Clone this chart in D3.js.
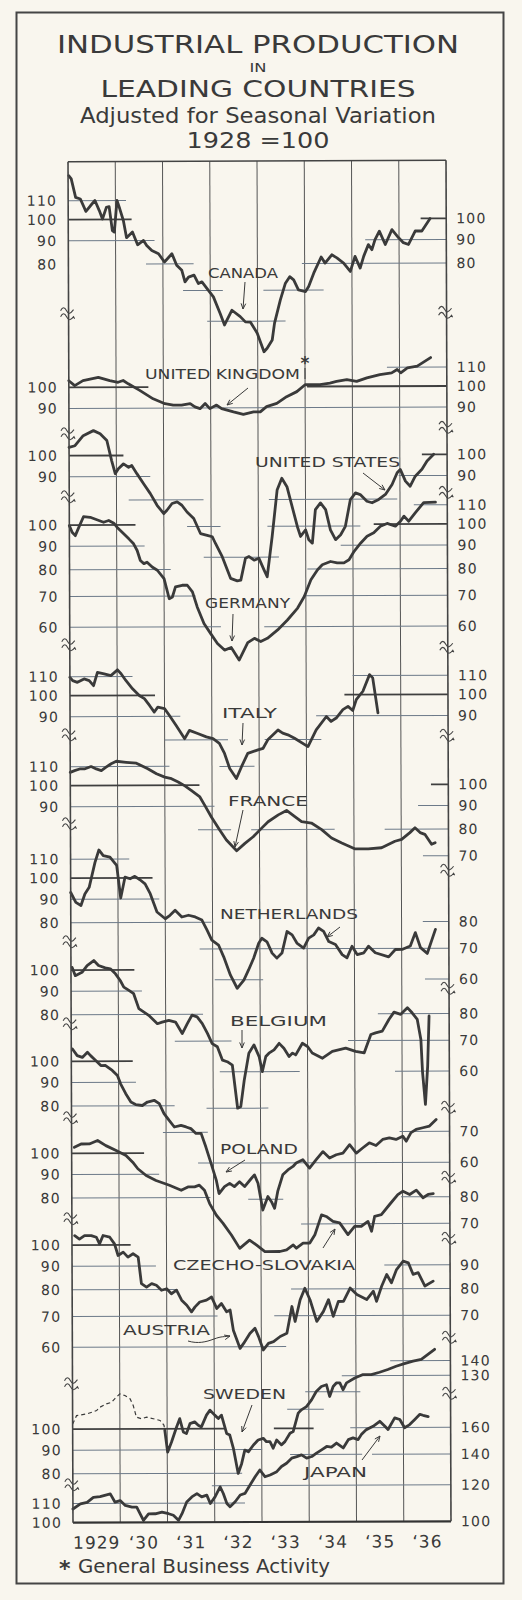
<!DOCTYPE html>
<html>
<head>
<meta charset="utf-8">
<script src="https://cdn.jsdelivr.net/npm/d3@7"></script>
<style>
  body { margin: 0; background: #f9f6ee; }
  text { font-family: "DejaVu Sans", sans-serif; fill: #3a3a3a; }
</style>
</head>
<body>
<div id="chart"></div>
<script>
// month 0 = Jan 1929, 96 = Jan 1937. Each series: [month, index (1928=100)]
const yearLabels = ["1929", "\u201830", "\u201831", "\u201832", "\u201833", "\u201834", "\u201835", "\u201836"];

const canada = [[0.2,124.6],[0.8,122.6],[1.9,111.8],[3.1,110.9],[4.5,104.2],[5.7,107.3],[6.8,110],[7.9,104.6],[8.7,100.3],[9.7,106.3],[10.4,106.7],[11.2,94.6],[11.7,93.9],[12.4,110],[13.1,105.5],[14,99.5],[14.8,91.3],[16.3,93.9],[17.6,88.1],[19.1,90],[19.9,87.8],[21.2,85.6],[22.9,84.2],[24.4,80.8],[26.3,84.2],[27.5,79.5],[28.8,77.5],[29.6,73.1],[30.5,74.9],[31.9,75.6],[33,72.5],[33.9,73.1],[35.2,70.7],[36.8,67.8],[38.5,62.4],[39.6,58.9],[41.5,63.4],[43.6,61.4],[44.9,59.8],[46.2,59.7],[47.9,56.5],[49.6,51.5],[50.4,52.4],[51.7,54.6],[52.3,59.4],[53.8,66.7],[55.1,72.5],[56.2,74.9],[57.2,73.7],[58.4,70.1],[60.2,69.5],[61,71.3],[62.3,76.2],[64.2,82.6],[65.2,80.1],[66.9,83.5],[68.2,82.2],[69.9,80.1],[71.6,76.8],[72.8,82.8],[74.1,78.1],[75,82.8],[76.2,87.8],[77.1,85.6],[77.9,90],[79,93.9],[80.5,87.8],[82.2,94.6],[83.9,90.8],[85.1,88.6],[86.4,87.8],[88.1,93.9],[89.8,93.9],[91.9,99.9]];
const unitedKingdom = [[0,103.4],[1.5,100.9],[3.6,103.4],[7.5,105.1],[10.4,103.4],[12.5,102.5],[13.8,103.4],[15.1,101.7],[18,98.4],[21.4,94.3],[24.4,92],[26.5,91.3],[28.6,91.3],[30.8,92],[32,90.5],[33.3,89.7],[34.6,92],[35.8,89.7],[37.5,91.3],[38.8,89.7],[41.8,88.2],[44.3,87.1],[46.9,88.2],[48.6,88.2],[50.2,90.5],[52.8,92],[55.3,95.1],[57.9,97.5],[60,100.9],[62.1,100.9],[63.8,100.9],[66.3,101.7],[68,102.5],[70.6,103.4],[73.1,102.5],[75.7,104.3],[79,106],[82,106.9],[83.4,108.7],[84.3,106.9],[86,109.6],[88.5,110.5],[91.9,115.3]];
const unitedStates = [[0,104.2],[1.5,105.1],[3.6,110.5],[6.2,113.3],[7.9,111.5],[9.6,107.8],[10.8,97.5],[11.7,91.3],[12.5,93.6],[13.8,95.9],[15.1,94.3],[15.9,95.1],[17.2,91.3],[18.9,86.8],[20.6,82.6],[22.3,77.9],[24,74.7],[24.8,76],[26.1,78.6],[27.4,79.2],[28.6,77.9],[29.9,75.3],[31.6,72.9],[33.3,67.6],[35,67],[36.3,66.5],[37.1,64.3],[38.8,60.2],[40.9,54],[42.6,53.3],[43.5,53.5],[44.7,59.7],[45.6,60.2],[46.9,59.1],[48.1,59.7],[49.4,56.3],[50.2,54.4],[51.5,66.5],[52.8,83.9],[54,89],[55.3,85.3],[56.6,77.2],[57.9,69.9],[58.7,66.5],[60,68.7],[60.8,65.4],[61.7,64.3],[62.5,76],[63.8,78.6],[65.1,76],[66.3,68.7],[67.6,65.4],[68.9,67],[70.1,69.9],[71.4,79.9],[72.7,82.6],[73.9,81.9],[75.6,79.2],[76.9,78.6],[78.6,79.9],[80.3,81.9],[82,86.1],[83.3,91.3],[84.1,92.8],[85.4,87.5],[86.6,85.3],[87.9,89.7],[89.6,92.8],[90.9,96.7],[92.6,100]];
const germany = [[0,99.8],[0.7,96.5],[1.5,94.9],[2.4,98.9],[3.6,104.3],[5.3,104],[7.5,102.3],[8.7,101.4],[10,102.3],[11.3,100.9],[12.1,98.9],[13.8,95.7],[15.1,93.3],[16.3,91],[17.2,88],[18,83.7],[18.9,82.4],[19.7,83],[21,81],[22.3,79.7],[24,76.4],[25.3,69.1],[26.1,69.7],[26.9,73.3],[28.6,73.9],[29.9,73.9],[31.2,71.5],[32.4,66.3],[34.1,61],[35.8,58],[37.5,55.2],[39.3,53.4],[41,54.1],[43,50.8],[45.2,55.4],[46.9,56.6],[48.5,55.7],[50.2,56.6],[52.8,59],[55.3,62],[57.9,65.8],[59.6,69.7],[61.3,75.8],[63,79.7],[64.2,81.7],[66.3,83],[68,82.4],[69.7,82.4],[71,83.7],[72.3,87.3],[74,91],[75.6,94.1],[77.3,95.7],[79,98.9],[80.7,100.3],[82.8,98.9],[84.1,101.4],[85,104],[86.2,101.4],[87.9,105.8],[90,111.2],[93,111.5]];
const italy = [[0,109.6],[0.7,107.8],[1.9,106.9],[3.6,108.7],[4.9,107.8],[6,105.1],[7,112.3],[8.7,111.5],[10.4,110.5],[12.1,113.7],[13,111.5],[14.2,107.8],[15.9,103.4],[17.6,100],[18.9,98.4],[20.2,95.1],[21.4,92],[22.3,94.3],[24,93.6],[25.2,90.5],[26.9,86.1],[29.1,80.5],[30.3,83.9],[32.4,82.6],[34.6,81.2],[36.3,80.5],[37.9,78.6],[39.2,74.7],[40.5,69.3],[42.2,65.9],[43.5,69.9],[45.1,74.7],[47.7,76],[49,76.6],[50.2,79.9],[52.8,83.9],[54,82.6],[55.3,81.9],[57,80.5],[60.4,77.2],[62.5,83.9],[65.1,89.7],[66.3,87.5],[67.6,89],[69.3,92.8],[70.6,94.3],[71.8,92.4],[72.7,97.5],[74.4,101.7],[76.1,110.5],[76.9,108.7],[78.2,91.3]];
const france = [[0,106.9],[1.1,107.8],[2.4,108.7],[3.6,108.7],[5.3,110],[6.6,108.7],[7.9,107.8],[9.1,109.6],[10.4,111.5],[11.7,112.9],[14.2,112.3],[16.8,111.8],[18,110.5],[19.7,108.7],[21.9,106],[24,104.2],[25.7,103.4],[27.4,101.7],[29.1,99.7],[30.7,97.5],[32.9,94.3],[34.1,90.5],[35.8,85.3],[37.9,79.9],[39.6,76],[42.2,72],[44.3,74.7],[46.4,77.2],[48.5,80.5],[50.2,83.2],[52.8,86.1],[54.9,88],[57,85.3],[58.7,83.2],[61.2,82.6],[63.8,79.9],[66.3,76.6],[68.9,74.7],[72.3,72.5],[75.6,72.5],[79,72.9],[80.7,74.1],[82.4,75.3],[84.1,76],[86.2,78.6],[87.5,80.5],[88.8,78.6],[90,77.9],[91.7,74.1],[92.6,74.7]];
const netherlands = [[0,93.1],[1.3,88.6],[2.6,87.2],[3.6,92.4],[4.7,95.5],[6.2,108.2],[7.2,115.1],[8.3,111.9],[10,111],[11.7,106.5],[12.7,90.5],[13.8,100.4],[15.1,99.6],[16.3,100.8],[17.6,99.1],[18.9,97.1],[20.2,92.4],[21.9,84.3],[24,81.5],[25.2,82.9],[26.5,85],[28.2,82.2],[29.9,82.9],[31.6,82.2],[33.3,80.9],[34.6,76.9],[35.8,73.2],[37.5,71.4],[38.8,67.3],[40.5,61.4],[42.2,57.5],[43.9,59.9],[45.1,63],[46.4,66.8],[47.7,72],[48.5,73.8],[49.8,72.5],[51.1,68.5],[52.3,66.8],[53.6,68.5],[54.9,76.3],[56.2,75],[57.4,72],[59.1,70.2],[60.4,73.8],[61.7,75],[62.9,77.6],[64.2,76.3],[65.5,72.5],[67.2,71.4],[68.9,67.9],[70.1,66.8],[71.4,70.8],[72.7,67.9],[74.4,68.5],[75.6,70.8],[77.3,68.5],[80.7,67.1],[82.4,69.6],[84.1,69.6],[86.2,70.8],[87.5,75.7],[88.8,70.2],[90.5,68.2],[92.6,76.9]];
const belgium = [[0.3,101.4],[1.1,97.3],[2.8,98.9],[4.1,102.3],[5.8,104.9],[7,102.3],[8.7,101.1],[10,100.6],[11.3,98.1],[12.5,94.9],[13.4,91.8],[14.7,90.3],[15.9,88.8],[17.2,82.4],[18.5,81],[19.7,79.7],[21.9,76.4],[23.1,77],[24.8,77.7],[26.5,77],[28.2,72.7],[29.5,76.4],[30.7,79.7],[32,79],[33.3,76.4],[34.6,72.7],[35.8,69.1],[37.1,68],[38.4,63.6],[39.6,63.1],[40.9,62],[42.2,50],[43,50.4],[43.9,57.5],[45.1,65.8],[46.4,68.6],[47.7,64.7],[48.5,60],[49.4,64.7],[50.2,65.8],[51.5,66.9],[52.8,69.1],[54,67.4],[55.3,64.7],[56.2,65.8],[57,65.2],[58.7,69.1],[60,68],[61.2,65.8],[63.8,64.1],[66.3,66.3],[69.7,67.4],[72.2,66.3],[74.4,65.8],[76.1,72.1],[77.3,72.7],[79,73.3],[80.7,77.7],[82,80.6],[83.7,79.7],[85.4,82.4],[86.6,80.3],[87.9,77.7],[88.8,70.3],[89.2,59.5],[89.9,50.8],[90.5,61.5],[90.9,79]];
const poland = [[0.3,106.4],[1.5,102.9],[2.8,102],[4.1,104.6],[4.9,102.9],[5.8,101.2],[7.5,97.9],[8.7,97.9],[10.4,95.5],[11.7,93.1],[12.5,89.3],[13.8,85],[15.1,81.5],[16.3,80.5],[18,80.1],[19.3,81.5],[21,82.2],[22.3,80.8],[23.5,76.9],[24.8,74.3],[26.1,71.9],[27.8,72.5],[29.1,71.9],[30.3,71.3],[31.6,69.6],[32.9,69.6],[34.1,65],[35.4,59.9],[36.7,55.1],[37.4,51.5],[38.8,53.3],[40.1,54.2],[41.3,53.3],[42.6,54.6],[43.9,53.3],[45.6,55.5],[46.4,56.5],[47.3,54.2],[48.5,47.4],[49.8,50.7],[50.7,49.4],[51.5,47.8],[52.3,52],[53.6,56.5],[54.9,57.9],[56.2,58.9],[57,59.9],[58.7,60.9],[60.4,58.4],[62.1,60.9],[63.8,63.4],[65.5,61.4],[67.2,62.4],[68.9,62.9],[70.6,65.6],[72.3,62.9],[73.9,64.5],[75.6,66.2],[77.3,65.3],[79,67.3],[80.7,67.8],[82.4,67.3],[84.1,68.4],[85,66.7],[86.2,69.6],[87.5,70.7],[89.2,71.3],[90.9,71.9],[92.6,74.3]];
const czechoslovakia = [[0.7,103.1],[2.4,104.8],[4.5,104.8],[6.6,106.6],[8.7,103.9],[11.3,101.4],[13.8,98.9],[15.5,95.6],[16.8,92.5],[18.9,89.4],[21.4,87.2],[24.8,85.1],[27.8,83],[29.5,84.4],[31.2,84.4],[32.4,85.1],[33.7,83],[35,77.6],[36.7,73.2],[38.4,70.3],[40.5,66.3],[42.6,62],[45.1,64.6],[46.9,63],[49,61],[52.8,61],[54.5,61.5],[56.2,63],[57,62],[58.7,63.6],[60.4,63.6],[61.7,66.3],[63.4,73.2],[64.6,72.6],[66.3,70.8],[68,70.3],[70.1,66.3],[71.8,69.1],[73.5,69.1],[75.2,70.8],[76.1,67.4],[76.9,72.6],[78.6,73.2],[80.7,77],[82.8,80.9],[84.1,82.3],[85.8,80.9],[87.5,82.7],[89.2,79.6],[90.5,80.9],[91.8,81.2]];
const austria = [[0.7,104.9],[1.9,103.1],[3.2,104.9],[4.9,104.9],[6.2,104],[7,100.6],[7.9,104.9],[9.6,104],[10.8,100.6],[11.7,94.9],[13,96.5],[14.2,94.1],[15.5,95.7],[16.8,94.1],[17.6,82.4],[18.9,81],[20.2,82.4],[21.4,81.7],[22.7,79.7],[24,80.3],[25.2,78.3],[26.5,79.7],[27.8,75.8],[29.1,73.9],[30.3,71.5],[31.2,73.3],[32.4,75.1],[34.1,75.8],[35.4,77],[36.7,72.7],[37.9,74.5],[39.2,71.5],[40.1,72.1],[40.9,65.2],[42.6,59.5],[43.5,61],[45.1,64.1],[46.4,65.8],[47.3,63.1],[48.5,59],[49.8,61],[51.1,61.5],[52.8,63.1],[54.5,64.1],[55.8,73.3],[56.6,68],[57.9,75.8],[59.1,80.3],[60.4,75.8],[62.1,68],[63.8,71.5],[65.1,75.8],[66.3,69.7],[67.6,75.1],[68.9,75.1],[70.6,80.3],[72.3,77.7],[74.8,75.8],[76.5,79],[77.3,75.1],[78.6,81],[79.9,85.9],[81.1,82.4],[82.4,88],[84.1,91.8],[85.4,91],[86.6,85.9],[87.9,86.6],[89.6,81],[91.7,83]];
// Sweden: general business activity (dashed) before the production index begins
const swedenBusiness = [[0,102.6],[1,107],[3.6,107.9],[6.1,109.7],[6.9,111.5],[8.6,113.4],[9.9,114.3],[10.7,116.3],[12,119.2],[13.3,118.2],[14.6,116.3],[15.4,112.5],[16.2,106.1],[17.5,105.2],[18.8,106.1],[20.5,105.2],[22.2,104.3],[23.2,101.8],[23.4,99.3]];
const sweden = [[23.4,99.3],[24.1,89],[25.1,93.6],[26.4,100.9],[27.2,105.2],[28.1,98.4],[28.9,97.6],[29.8,102.6],[31,103.5],[31.9,101.8],[32.7,100.9],[34,107],[34.9,109.7],[36.1,107],[37,105.2],[37.8,107],[39.1,97.6],[39.9,96.8],[40.8,90.6],[42,79.9],[42.9,84],[43.7,89.8],[44.6,89],[45.9,92.1],[47.1,94.4],[48.4,95.2],[49.2,93.6],[50.1,93.6],[50.9,90.6],[51.8,94.4],[53,92.1],[53.9,93.6],[55.2,97.6],[56,98.4],[57.3,107.9],[58.1,109.7],[59.4,111.5],[60.7,115.3],[61.9,120.2],[63.2,123.2],[64.5,124.3],[65.3,117.2],[66.2,123.2],[67,125.4],[67.9,125.4],[68.7,121.2],[69.6,125.4],[71.7,128.5],[73.8,130.7],[75.9,130.7],[78,132.2],[80.1,134],[82.2,136.2],[84.3,138],[86.5,139.7],[88.6,140.9],[90.3,144.4],[92,148.1]];
const japan = [[0,107.1],[1.9,109.8],[3.6,110.7],[5.2,113.5],[6.9,113.9],[9.5,115.4],[10.7,110.7],[12,111.6],[13.3,108.9],[15,108],[16.2,108],[17.9,101],[19.2,104.4],[20.9,104.4],[22.6,105.3],[24.3,104.4],[25.5,103.6],[26.8,101],[27.7,104.4],[28.9,110.7],[30.2,113.5],[31.5,115.4],[32.7,113.5],[34,114.5],[34.9,109.8],[36.1,113.5],[37.4,119.3],[38.2,115.4],[39.1,109.8],[39.9,108],[41.2,110.7],[42.5,114.5],[43.7,115.4],[45,120.3],[46.3,125.4],[47.5,129.7],[48.8,125.4],[50.1,126.5],[51.8,128.6],[53,131.9],[54.3,134.1],[55.6,137.5],[56.9,138.6],[58.1,139.8],[59.4,137.5],[60.7,138.6],[61.9,141],[63.2,143.3],[64.5,145.7],[65.7,145.2],[67,148.2],[68.7,144.6],[70,150.7],[71.2,152],[72.5,150.7],[73.3,154.5],[74.6,158.4],[76.3,161],[78,165.1],[79.3,161],[80.1,158.4],[81.8,167.9],[83.1,166.5],[84.3,159.8],[85.6,162.3],[86.9,166.5],[88.2,170.8],[89,170],[90.3,168.9]];

// tick labels per panel, left and right
const canadaTicks = {left:[110,100,90,80], right:[100,90,80]};
const ukTicks = {left:[100,90], right:[110,100,90]};
const usTicks = {left:[100,90], right:[100,90]};
const germanyTicks = {left:[100,90,80,70,60], right:[110,100,90,80,70,60]};
const italyTicks = {left:[110,100,90], right:[110,100,90]};
const franceTicks = {left:[110,100,90], right:[100,90,80,70]};
const netherlandsTicks = {left:[110,100,90,80], right:[80,70,60]};
const belgiumTicks = {left:[100,90,80], right:[80,70,60]};
const polandTicks = {left:[100,90,80], right:[70,60]};
const czechTicks = {left:[100,90,80], right:[80,70]};
const austriaTicks = {left:[100,90,80,70,60], right:[90,80,70]};
const swedenTicks = {left:[100,90,80], right:[140,130]};
const japanTicks = {left:[110,100], right:[160,140,120,100]};

// partial reference lines: [value, fromMonth, toMonth]
const canadaGrid = [[110,0,14.7],[100,0,16.1],[100,89.5,96],[90,0,21.9],[90,75.4,96],[80,19.7,31.8],[80,59.3,96],[70,29.1,39.2],[70,49.5,64.8],[60,35.2,55.1]];
const ukGrid = [[110,80.8,96],[100,0,20.2],[100,60.5,96],[90,0,96]];
const usGrid = [[100,0,13.8],[100,89.6,96],[90,0,20.6],[90,83.7,96],[80,15.1,34.1],[80,50.7,83.3],[70,29.9,38.4],[70,50.3,73.9],[60,34.1,53.2]];
const germanyGrid = [[110,87.5,96],[100,0,16.8],[100,77.3,96],[90,0,19.1],[90,68.9,96],[80,0,25.7],[80,60.4,96],[70,0,32],[70,59.5,96],[60,0,38.4],[60,49.4,96]];
const italyGrid = [[110,0,15.9],[110,71.8,96],[100,0,21.6],[100,69.7,96],[90,0,28],[90,62.5,96],[80,24,40.1],[80,49.4,63.8],[70,37.9,46.8]];
const franceGrid = [[110,0,25.2],[100,0,32.8],[100,91.6,96],[90,0,36.6],[90,88.3,96],[80,32.4,40.8],[80,45.9,67.1],[80,79.8,96],[70,89.5,96]];
const netherlandsGrid = [[110,0,14.9],[100,0,20.8],[90,0,22.5],[80,0,35.7],[80,89.4,96],[70,32.7,96],[60,36.5,48.8],[60,89.9,96]];
const belgiumGrid = [[100,0,16.1],[90,0,18],[80,0,33.5],[80,77.9,96],[70,26.3,40.7],[70,70.3,96],[60,37.7,58],[60,82.2,96],[50,34.3,50]];
const polandGrid = [[100,0,15.6],[90,0,16.4],[80,0,26.2],[70,23.2,34.6],[70,83.3,96],[60,32.1,96],[50,44.8,53.7]];
const czechGrid = [[100,0,18.4],[90,0,22.2],[80,0,35.2],[80,83.6,96],[70,58.2,96]];
const austriaGrid = [[100,0,14.9],[90,0,21.3],[90,79.3,96],[80,0,26.8],[80,55.6,96],[70,0,36.9],[70,51.3,96],[60,0,54.3]];
const swedenGrid = [[100,0,38.8],[100,51.1,61.2],[90,0,48.1],[80,0,43],[110,54.5,63.8],[120,59.1,73.1],[130,68.4,96],[140,80.7,96]];
const japanGrid = [[110,0,43.7],[120,35.3,96],[140,55.2,73.5],[140,76,96],[160,70.5,96]];

// ---- layout ----
const W = 522, H = 1600;
const plotL = 70.5, plotR = 448.5, plotT = 161, plotB = 1522;
const pxPerLn = 200;   // ratio scale: pixels per natural-log unit

const panels = [
  {data: canada, ticks: canadaTicks, grid: canadaGrid, y100: 219},
  {data: unitedKingdom, ticks: ukTicks, grid: ukGrid, y100: 386.7},
  {data: unitedStates, ticks: usTicks, grid: usGrid, y100: 455},
  {data: germany, ticks: germanyTicks, grid: germanyGrid, y100: 524.5},
  {data: italy, ticks: italyTicks, grid: italyGrid, y100: 695},
  {data: france, ticks: franceTicks, grid: franceGrid, y100: 785},
  {data: netherlands, ticks: netherlandsTicks, grid: netherlandsGrid, y100: 877.5},
  {data: belgium, ticks: belgiumTicks, grid: belgiumGrid, y100: 969.5},
  {data: poland, ticks: polandTicks, grid: polandGrid, y100: 1060.7},
  {data: czechoslovakia, ticks: czechTicks, grid: czechGrid, y100: 1152.7},
  {data: austria, ticks: austriaTicks, grid: austriaGrid, y100: 1244.5},
  {data: sweden, ticks: swedenTicks, grid: swedenGrid, y100: 1428.5, dashed: swedenBusiness},
  {data: japan, ticks: japanTicks, grid: japanGrid, y100: 1522}
];
const leftBreaks = [312, 432, 495, 643, 733, 822, 940, 1022, 1116, 1217, 1382, 1483];
const rightBreaks = [312, 427, 492, 647, 735, 870, 988, 1107, 1177, 1238, 1337, 1393];

const ink = "#3a3a3a";
const svg = d3.select("#chart").append("svg")
  .attr("width", W).attr("height", H);

svg.append("rect").attr("width", W).attr("height", H).attr("fill", "#f9f6ee");
svg.append("rect")
  .attr("x", 16.5).attr("y", 12.5).attr("width", 487).attr("height", 1571)
  .attr("fill", "none").attr("stroke", "#454545").attr("stroke-width", 2);

// titles
const title = (t, y, size, len) => svg.append("text")
  .attr("x", 258).attr("y", y).attr("text-anchor", "middle")
  .attr("font-size", size).attr("textLength", len).attr("lengthAdjust", "spacingAndGlyphs")
  .text(t);
title("INDUSTRIAL PRODUCTION", 53, 25, 402);
title("IN", 72, 11.5, 17);
title("LEADING COUNTRIES", 97, 23, 315);
title("Adjusted for Seasonal Variation", 123, 22, 356);
title("1928 =100", 148, 21, 143);

// the plot area is very slightly rotated in the original
const plot = svg.append("g").attr("transform", "rotate(-0.21, 259, 841)");
const x = d3.scaleLinear().domain([0, 96]).range([plotL, plotR]);

// vertical year lines
plot.append("g").selectAll("line")
  .data(d3.range(1, 8))
  .join("line")
  .attr("x1", d => x(d * 12)).attr("x2", d => x(d * 12))
  .attr("y1", plotT).attr("y2", plotB)
  .attr("stroke", "#555").attr("stroke-width", 1);

panels.forEach(p => {
  const y = d3.scaleLog().domain([100, 200]).range([p.y100, p.y100 - pxPerLn * Math.LN2]);
  const g = plot.append("g");

  g.selectAll("line.grid")
    .data(p.grid)
    .join("line")
    .attr("class", "grid")
    .attr("x1", d => x(d[1])).attr("x2", d => x(d[2]))
    .attr("y1", d => y(d[0])).attr("y2", d => y(d[0]))
    .attr("stroke", d => d[0] === 100 ? "#3f3f3f" : "#6d7a89")
    .attr("stroke-width", d => d[0] === 100 ? 1.8 : 1);

  g.selectAll("text.tl")
    .data(p.ticks.left)
    .join("text")
    .attr("class", "tl")
    .attr("x", x(0) - 11).attr("y", d => y(d))
    .attr("dy", "0.36em").attr("text-anchor", "end")
    .attr("font-size", 14).attr("letter-spacing", 1.2)
    .text(d => d);

  g.selectAll("text.tr")
    .data(p.ticks.right)
    .join("text")
    .attr("class", "tr")
    .attr("x", x(96) + 10).attr("y", d => y(d))
    .attr("dy", "0.36em").attr("text-anchor", "start")
    .attr("font-size", 14).attr("letter-spacing", 1.2)
    .text(d => d);

  const line = d3.line().x(d => x(d[0])).y(d => y(d[1]));
  if (p.dashed) {
    g.append("path").attr("d", line(p.dashed))
      .attr("fill", "none").attr("stroke", ink).attr("stroke-width", 1.2)
      .attr("stroke-dasharray", "4,3");
  }
  g.append("path").attr("d", line(p.data))
    .attr("fill", "none").attr("stroke", ink).attr("stroke-width", 2.8)
    .attr("stroke-linejoin", "round").attr("stroke-linecap", "round");
});

// frame of the plot
plot.append("line").attr("x1", x(0)).attr("x2", x(96)).attr("y1", plotT).attr("y2", plotT)
  .attr("stroke", "#444").attr("stroke-width", 1.5);
plot.append("line").attr("x1", x(0)).attr("x2", x(96)).attr("y1", plotB).attr("y2", plotB)
  .attr("stroke", "#333").attr("stroke-width", 2.2);
[0, 96].forEach(m => plot.append("line")
  .attr("x1", x(m)).attr("x2", x(m)).attr("y1", plotT).attr("y2", plotB)
  .attr("stroke", "#444").attr("stroke-width", 1.6));

// scale-break marks
const breakMark = (cx, cy) => {
  const b = plot.append("g").attr("transform", `translate(${cx},${cy})`)
    .attr("fill", "none").attr("stroke", "#444").attr("stroke-width", 1.1);
  b.append("path").attr("d", "M-8,-2 c2,-4 4,-4 6,0 s4,3 7,-1");
  b.append("path").attr("d", "M-8,4 c2,-4 4,-4 6,0 s4,4 7,0 l1,2");
};
leftBreaks.forEach(v => breakMark(x(0), v));
rightBreaks.forEach(v => breakMark(x(96), v));

// year labels
plot.append("g").selectAll("text")
  .data(yearLabels)
  .join("text")
  .attr("x", (d, i) => x(i * 12 + 6)).attr("y", 1548)
  .attr("text-anchor", "middle").attr("font-size", 17).attr("letter-spacing", 1)
  .text(d => d);

// country labels and pointers
const labels = [
  {t: "CANADA", x: 208, y: 278, len: 70, a: [245, 282, 243, 309]},
  {t: "UNITED KINGDOM", x: 145, y: 379, len: 155, a: [248, 388, 227, 405]},
  {t: "UNITED STATES", x: 255, y: 467, len: 145, a: [363, 473, 385, 490]},
  {t: "GERMANY", x: 205, y: 608, len: 85, a: [233, 614, 232, 641]},
  {t: "ITALY", x: 222, y: 718, len: 55, a: [243, 723, 242, 745]},
  {t: "FRANCE", x: 228, y: 806, len: 80, a: [243, 810, 235, 847]},
  {t: "NETHERLANDS", x: 220, y: 919, len: 138, a: [340, 927, 327, 937]},
  {t: "BELGIUM", x: 230, y: 1026, len: 97, a: [242, 1030, 242, 1048]},
  {t: "POLAND", x: 220, y: 1154, len: 78, a: [245, 1160, 226, 1172]},
  {t: "CZECHO-SLOVAKIA", x: 173, y: 1270, len: 182, a: [323, 1248, 335, 1229]},
  {t: "AUSTRIA", x: 123, y: 1335, len: 87, a: null},
  {t: "SWEDEN", x: 203, y: 1399, len: 83, a: [252, 1405, 242, 1432]},
  {t: "JAPAN", x: 304, y: 1477, len: 63, a: [362, 1460, 380, 1436]}
];
const ann = svg.append("g");
ann.selectAll("text")
  .data(labels)
  .join("text")
  .attr("x", d => d.x).attr("y", d => d.y)
  .attr("font-size", 14.5).attr("textLength", d => d.len).attr("lengthAdjust", "spacingAndGlyphs")
  .text(d => d.t);

const arrowHead = (x1, y1, x2, y2) => {
  const ang = Math.atan2(y2 - y1, x2 - x1), L = 6, s = 0.4;
  return `M${x2 - L * Math.cos(ang - s)},${y2 - L * Math.sin(ang - s)} L${x2},${y2} L${x2 - L * Math.cos(ang + s)},${y2 - L * Math.sin(ang + s)}`;
};
labels.filter(d => d.a).forEach(d => {
  const [x1, y1, x2, y2] = d.a;
  ann.append("path").attr("d", `M${x1},${y1} L${x2},${y2}`)
    .attr("stroke", ink).attr("stroke-width", 1).attr("fill", "none");
  ann.append("path").attr("d", arrowHead(x1, y1, x2, y2))
    .attr("stroke", ink).attr("stroke-width", 1).attr("fill", "none");
});
// Austria's wavy pointer
ann.append("path").attr("d", "M188,1341 C198,1344 206,1342 214,1339 S224,1337 230,1336")
  .attr("stroke", ink).attr("stroke-width", 1).attr("fill", "none");
ann.append("path").attr("d", arrowHead(222, 1338, 230, 1336))
  .attr("stroke", ink).attr("stroke-width", 1).attr("fill", "none");

// asterisk for UK (general business activity)
ann.append("text").attr("x", 305).attr("y", 369).attr("text-anchor", "middle")
  .attr("font-size", 17).attr("font-weight", "bold").text("*");
ann.append("line").attr("x1", 305).attr("x2", 305).attr("y1", 368).attr("y2", 379)
  .attr("stroke", ink).attr("stroke-width", 1);

// footnote
ann.append("text").attr("x", 59).attr("y", 1576).attr("font-size", 22).attr("font-weight", "bold").text("*");
ann.append("text").attr("x", 78).attr("y", 1573).attr("font-size", 20)
  .attr("textLength", 252).attr("lengthAdjust", "spacingAndGlyphs")
  .text("General Business Activity");
</script>
</body>
</html>
